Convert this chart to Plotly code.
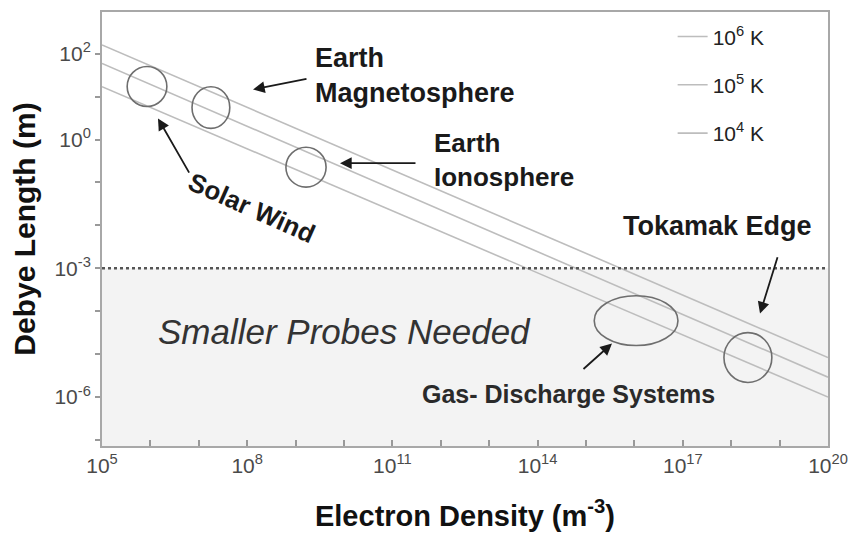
import plotly.graph_objects as go

# ---------------- data ----------------
density_ends = [1e5, 1e20]                      # electron density, m^-3
temp_labels = ["10<sup>6</sup> K", "10<sup>5</sup> K", "10<sup>4</sup> K"]
debye_T1e6 = [160, 8.3e-6]                      # Debye length, m
debye_T1e5 = [59, 2.9e-6]
debye_T1e4 = [17, 1.0e-6]

region_names = ["Solar Wind", "Earth Magnetosphere", "Earth Ionosphere",
                "Gas- Discharge Systems", "Tokamak Edge"]
region_logn_lo = [5.52, 6.86, 8.80, 15.17, 17.85]
region_logn_hi = [6.34, 7.64, 9.63, 16.90, 18.84]
region_loglam_lo = [0.77, 0.26, -1.11, -4.80, -5.66]
region_loglam_hi = [1.70, 1.23, -0.18, -3.64, -4.50]

probe_limit = 1e-3                              # m

x_tick_exps = list(range(5, 21))
x_label_exps = [5, 8, 11, 14, 17, 20]
y_tick_exps = list(range(-7, 3))
y_label_exps = [2, 0, -3, -6]

# ---------------- figure ----------------
FONT = "Liberation Sans, Arial, Helvetica, sans-serif"
LINE_COL = "#bdbdbd"

fig = go.Figure()

for i, (lab, ys) in enumerate(zip(temp_labels, [debye_T1e6, debye_T1e5, debye_T1e4])):
    fig.add_trace(go.Scatter(
        x=density_ends, y=ys, mode="lines", name=lab,
        legendgroup=f"g{i}",
        line=dict(color=LINE_COL, width=1.6),
        hoverinfo="skip"))

# probe-size threshold (dotted line)
fig.add_trace(go.Scatter(
    x=density_ends, y=[probe_limit, probe_limit], mode="lines",
    line=dict(color="#555555", width=2.5, dash="dot"),
    showlegend=False, hoverinfo="skip"))

shapes = []
# shaded "smaller probes" region
shapes.append(dict(type="rect", xref="paper", yref="y", x0=0, x1=1,
                   y0=10.0 ** -7.14, y1=probe_limit,
                   fillcolor="#f3f3f3", line=dict(width=0), layer="below"))
# plasma regions
for lo, hi, llo, lhi in zip(region_logn_lo, region_logn_hi, region_loglam_lo, region_loglam_hi):
    shapes.append(dict(type="circle", xref="x", yref="y",
                       x0=10.0 ** lo, x1=10.0 ** hi, y0=10.0 ** llo, y1=10.0 ** lhi,
                       line=dict(color="#6e6e6e", width=1.6)))

txt = dict(family=FONT, size=26, color="#1a1a1a")
annotations = [
    dict(x=9.36, y=1.49, text="<b>Earth<br>Magnetosphere</b>", xanchor="left",
         yanchor="middle", align="left", showarrow=False,
         font=dict(family=FONT, size=27, color="#1a1a1a")),
    dict(x=11.82, y=-0.48, text="<b>Earth<br>Ionosphere</b>", xanchor="left",
         yanchor="middle", align="left", showarrow=False, font=txt),
    dict(x=8.10, y=-1.60, text="<b>Solar Wind</b>", textangle=24,
         showarrow=False, font=txt),
    dict(x=17.71, y=-2.01, text="<b>Tokamak Edge</b>", showarrow=False,
         font=dict(family=FONT, size=27, color="#1a1a1a")),
    dict(x=14.63, y=-5.93, text="<b>Gas- Discharge Systems</b>", showarrow=False,
         font=dict(family=FONT, size=25, color="#2a2a2a")),
    dict(x=10.02, y=-4.47, text="<i>Smaller Probes Needed</i>", showarrow=False,
         font=dict(family=FONT, size=35, color="#333333")),
]
arrows = [  # (head_x, head_y, tail_x, tail_y) in log10 axis units
    (8.12, 1.165, 9.256, 1.42),
    (9.917, -0.552, 11.508, -0.552),
    (6.157, 0.492, 6.818, -0.807),
    (18.595, -4.056, 18.967, -2.71),
    (15.537, -4.752, 14.917, -5.378),
]
for hx, hy, tx, ty in arrows:
    annotations.append(dict(x=hx, y=hy, ax=tx, ay=ty, axref="x", ayref="y",
                            xref="x", yref="y", text="", showarrow=True,
                            arrowhead=2, arrowsize=1.3, arrowwidth=1.8,
                            arrowcolor="#1a1a1a"))

# the page body has an 8 px margin, so the figure is sized to fit the window
fig.update_layout(
    width=849, height=527,
    margin=dict(l=94, r=29, t=2, b=89),
    paper_bgcolor="white", plot_bgcolor="white",
    font=dict(family=FONT, color="#333"),
    shapes=shapes, annotations=annotations,
    showlegend=True,
    legend=dict(x=0.786, y=0.99, xanchor="left", yanchor="top",
                bgcolor="rgba(0,0,0,0)", borderwidth=0,
                font=dict(family=FONT, size=21, color="#222"),
                traceorder="grouped", tracegroupgap=18),
    xaxis=dict(type="log", range=[5, 20],
               tickvals=[10.0 ** e for e in x_label_exps],
               ticktext=[f"10<sup>{e}</sup>" for e in x_label_exps],
               ticks="inside", ticklen=6, tickcolor="#999", tickwidth=1.5,
               minor=dict(tickvals=[10.0 ** e for e in x_tick_exps],
                          ticks="inside", ticklen=6, tickcolor="#999",
                          tickwidth=1.5, showgrid=False),
               showline=True, linecolor="#a8a8a8", linewidth=2, mirror=True,
               showgrid=False, zeroline=False,
               tickfont=dict(family=FONT, size=21, color="#4a4a4a"),
               title=dict(text="<b>Electron Density (m<sup>-3</sup>)</b>",
                          font=dict(family=FONT, size=29, color="#111"), standoff=29)),
    yaxis=dict(type="log", range=[-7.14, 2.97],
               tickvals=[10.0 ** e for e in y_label_exps],
               ticktext=[f"10<sup>{e}</sup>" for e in y_label_exps],
               ticks="outside", ticklen=5, tickcolor="#999", tickwidth=1.5,
               minor=dict(tickvals=[10.0 ** e for e in y_tick_exps],
                          ticks="outside", ticklen=5, tickcolor="#999",
                          tickwidth=1.5, showgrid=False),
               showline=True, linecolor="#a8a8a8", linewidth=2, mirror=True,
               showgrid=False, zeroline=False,
               tickfont=dict(family=FONT, size=21, color="#4a4a4a"),
               title=dict(text="<b>Debye Length (m)</b>",
                          font=dict(family=FONT, size=30, color="#111"), standoff=14)),
)

fig.write_html("out.html")
